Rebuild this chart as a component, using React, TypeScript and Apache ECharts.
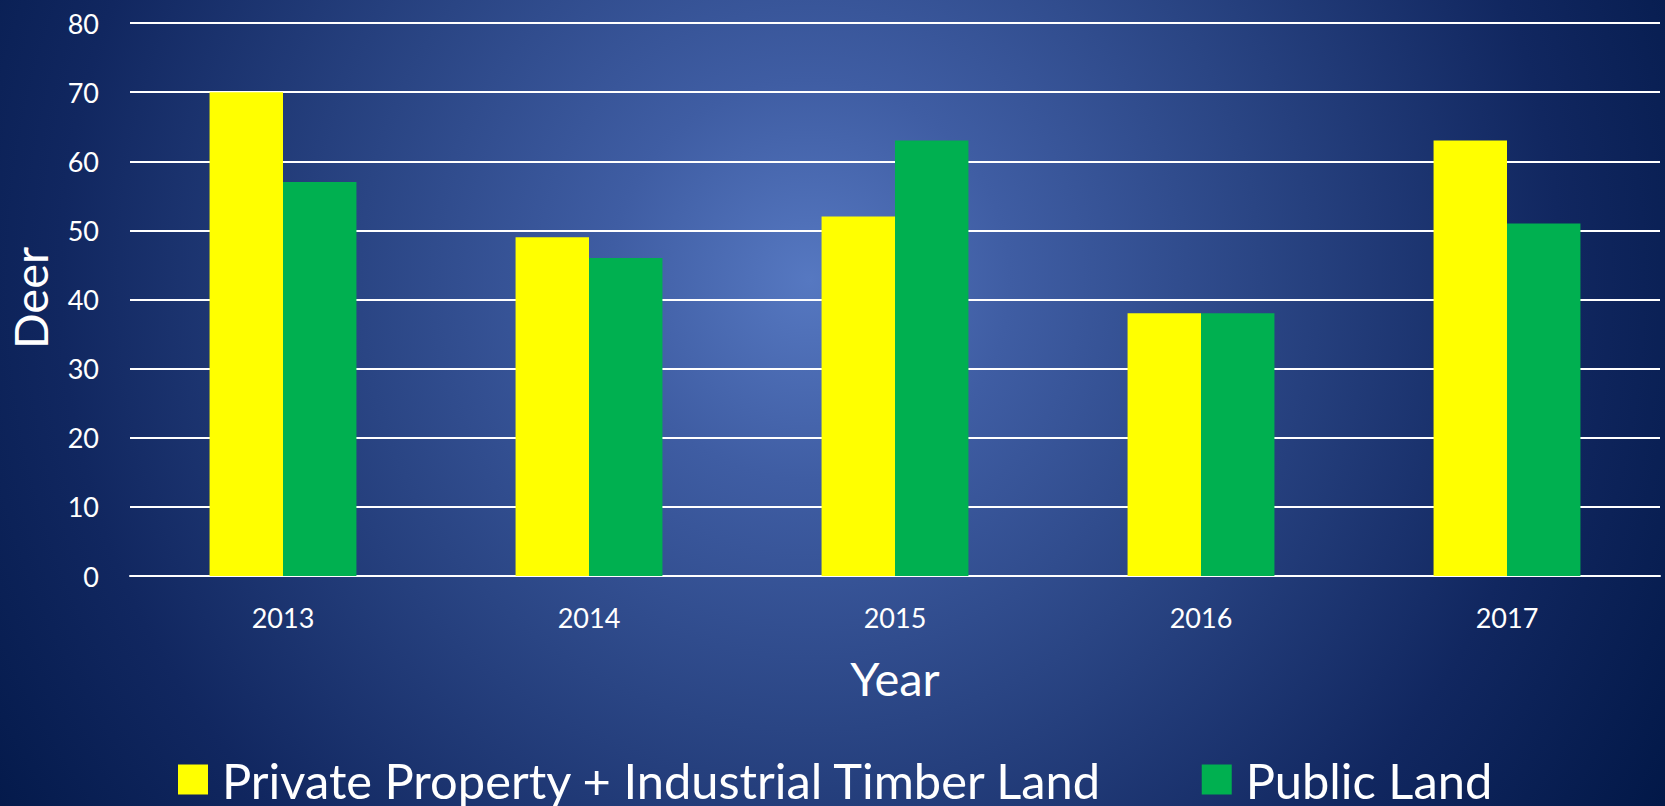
import React, { useEffect, useRef } from "react";
import * as echarts from "echarts";

const years = ["2013", "2014", "2015", "2016", "2017"];
const privateLand = [70, 49, 52, 38, 63];
const publicLand = [57, 46, 63, 38, 51];
const seriesNames = ["Private Property + Industrial Timber Land", "Public Land"];
const yTicks = { min: 0, max: 80, interval: 10 };

const FONT = "Lato";

export default function App() {
  const ref = useRef<HTMLDivElement>(null);
  useEffect(() => {
    document.body.style.margin = "0";
    const chart = echarts.init(ref.current!, null, { renderer: "svg" });
    chart.setOption({
      animation: false,
      grid: { left: 130, right: 5, top: 23, bottom: 230, containLabel: false },
      legend: {
        left: 173,
        top: 750,
        icon: "rect",
        itemWidth: 30,
        itemHeight: 30,
        itemGap: 98,
        data: seriesNames,
        textStyle: {
          color: "#ffffff",
          fontFamily: FONT,
          fontSize: 48.8,
          padding: [0, 0, 18, 9],
        },
      },
      xAxis: {
        type: "category",
        data: years,
        axisLine: { lineStyle: { color: "#ffffff", width: 2 } },
        axisTick: { show: false },
        axisLabel: { color: "#ffffff", fontFamily: FONT, fontSize: 27, margin: 28 },
      },
      yAxis: {
        type: "value",
        min: yTicks.min,
        max: yTicks.max,
        interval: yTicks.interval,
        axisLine: { show: false },
        axisTick: { show: false },
        splitLine: { lineStyle: { color: "#ffffff", width: 2 } },
        axisLabel: { color: "#ffffff", fontFamily: FONT, fontSize: 27, margin: 31 },
      },
      graphic: [
        {
          type: "text",
          x: 30,
          y: 298,
          rotation: Math.PI / 2,
          style: {
            text: "Deer",
            fill: "#ffffff",
            font: `47px ${FONT}`,
            textAlign: "center",
            textVerticalAlign: "middle",
          },
        },
        {
          type: "text",
          x: 895,
          y: 678,
          style: {
            text: "Year",
            fill: "#ffffff",
            font: `47px ${FONT}`,
            textAlign: "center",
            textVerticalAlign: "middle",
          },
        },
      ],
      series: [
        {
          name: seriesNames[0],
          type: "bar",
          data: privateLand,
          barGap: "0%",
          barCategoryGap: "52%",
          itemStyle: { color: "#FFFF00" },
        },
        {
          name: seriesNames[1],
          type: "bar",
          data: publicLand,
          barGap: "0%",
          barCategoryGap: "52%",
          itemStyle: { color: "#00B050" },
        },
      ],
    });
    return () => chart.dispose();
  }, []);
  return (
    <div
      ref={ref}
      style={{
        width: 1665,
        height: 806,
        background:
          "radial-gradient(circle 1000px at 810px 280px, #5678c1 0%, #3f5da3 20%, #2a4584 45%, #112760 75%, #021848 100%)",
      }}
    />
  );
}
